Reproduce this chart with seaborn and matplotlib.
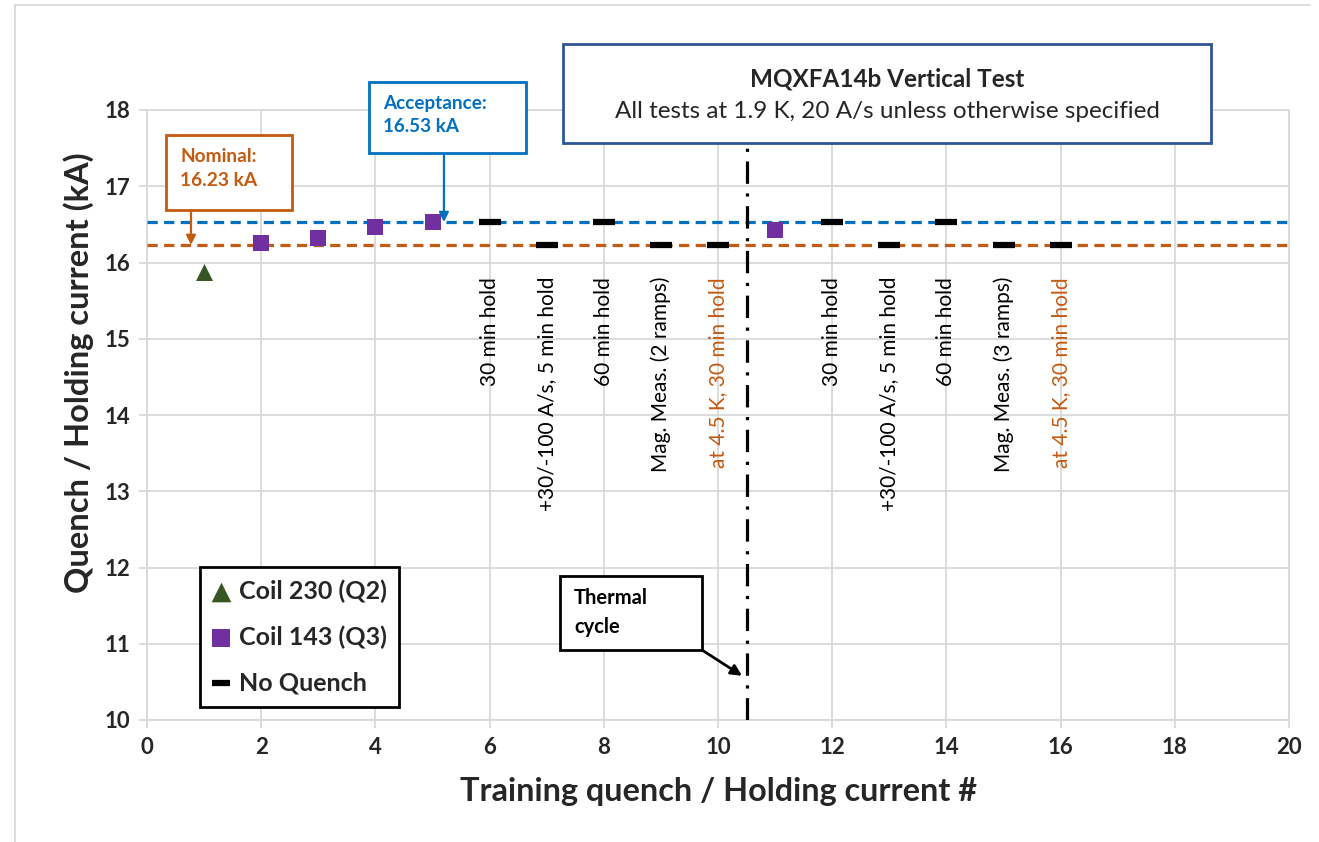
import matplotlib
matplotlib.use("Agg")
import matplotlib.pyplot as plt
from matplotlib.patches import Rectangle
from matplotlib.lines import Line2D
import seaborn as sns
import pandas as pd

# ---- data ----
coil230_x = [1]
coil230_y = [15.87]
coil143_x = [2, 3, 4, 5, 11]
coil143_y = [16.25, 16.32, 16.47, 16.53, 16.42]
noq_x = [6, 7, 8, 9, 10, 12, 13, 14, 15, 16]
noq_y = [16.53, 16.23, 16.53, 16.23, 16.23, 16.53, 16.23, 16.53, 16.23, 16.23]
noq_labels = ["30 min hold", "+30/-100 A/s, 5 min hold", "60 min hold",
              "Mag. Meas. (2 ramps)", "at 4.5 K, 30 min hold",
              "30 min hold", "+30/-100 A/s, 5 min hold", "60 min hold",
              "Mag. Meas. (3 ramps)", "at 4.5 K, 30 min hold"]
noq_label_orange = [False, False, False, False, True, False, False, False, False, True]
acceptance = 16.53
nominal = 16.23
thermal_cycle_x = 10.5
x_ticks = [0, 2, 4, 6, 8, 10, 12, 14, 16, 18, 20]
y_ticks = [10, 11, 12, 13, 14, 15, 16, 17, 18]

BLUE = "#0070C0"
ORANGE = "#C55A11"
GREEN = "#375623"
PURPLE = "#7030A0"
GRID = "#D9D9D9"

sns.set_theme(style="white")
plt.rcParams["font.family"] = ["Lato", "DejaVu Sans"]

W, H = 1319, 842
fig = plt.figure(figsize=(W / 100, H / 100), dpi=100)
ax = fig.add_axes([147 / W, 122 / H, 1142 / W, 610 / H])

def fx(px):
    return px / W

def fy(py):
    return 1 - py / H

df230 = pd.DataFrame({"x": coil230_x, "y": coil230_y})
df143 = pd.DataFrame({"x": coil143_x, "y": coil143_y})
dfnq = pd.DataFrame({"x": noq_x, "y": noq_y})

ax.axhline(acceptance, color=BLUE, lw=2.3, dashes=(3.2, 2.0), zorder=3)
ax.axhline(nominal, color=ORANGE, lw=2.3, dashes=(3.2, 2.0), zorder=3)
ax.axvline(thermal_cycle_x, color="black", lw=2.3, dashes=(7, 3, 1, 3), zorder=3)

sns.scatterplot(data=df230, x="x", y="y", marker="^", s=150, color=GREEN,
                edgecolor=GREEN, linewidth=0, ax=ax, zorder=5, label="Coil 230 (Q2)")
sns.scatterplot(data=df143, x="x", y="y", marker="s", s=120, color=PURPLE,
                edgecolor=PURPLE, linewidth=0, ax=ax, zorder=5, label="Coil 143 (Q3)")
sns.scatterplot(data=dfnq, x="x", y="y", marker="_", s=260, color="black",
                linewidth=4.5, ax=ax, zorder=5, label="No Quench")

for x, lab, orange in zip(noq_x, noq_labels, noq_label_orange):
    ax.text(x, 15.81, lab, rotation=90, ha="center", va="top", fontsize=15,
            color=ORANGE if orange else "black", zorder=6)

ax.set_xlim(0, 20)
ax.set_ylim(10, 18)
ax.set_xticks(x_ticks)
ax.set_yticks(y_ticks)
ax.grid(True, color=GRID, lw=1.3)
for s in ax.spines.values():
    s.set_color(GRID)
    s.set_linewidth(1.3)
ax.tick_params(axis="both", which="both", length=6, width=1.3, color=GRID,
               labelsize=16, pad=6, bottom=True, left=True)
for lab in ax.get_xticklabels() + ax.get_yticklabels():
    lab.set_fontweight("bold")
ax.set_xlabel("Training quench / Holding current #", fontsize=23.3, fontweight="bold", labelpad=14)
ax.set_ylabel("Quench / Holding current (kA)", fontsize=23.5, fontweight="bold")
ax.yaxis.set_label_coords(-0.046, 0.569)

# legend
leg = ax.legend(loc="upper left", bbox_to_anchor=(fx(200), fy(567)), bbox_transform=fig.transFigure,
                frameon=True, fancybox=False, edgecolor="black", framealpha=1,
                prop={"weight": "bold", "size": 18}, labelspacing=0.89, handlelength=0.7,
                handletextpad=0.35, borderpad=0.5, borderaxespad=0)
leg.get_frame().set_linewidth(2)
leg.set_zorder(20)
hs = leg.legend_handles
hs[0].set_sizes([200])
hs[1].set_sizes([160])
hs[2].set_sizes([150])
hs[2].set_linewidth(4.5)

def box(x0, y0, x1, y1, ec, lw=2):
    r = Rectangle((fx(x0), fy(y1)), fx(x1) - fx(x0), fy(y0) - fy(y1), transform=fig.transFigure,
                  facecolor="white", edgecolor=ec, lw=lw, zorder=15, clip_on=False)
    ax.add_patch(r)

# title box
box(563, 44, 1211, 143, "#2F5597", 2)
ax.text(fx(887), fy(79), "MQXFA14b Vertical Test", transform=fig.transFigure, ha="center", va="center",
        fontsize=17.5, fontweight="bold", zorder=16)
ax.text(fx(887), fy(112), "All tests at 1.9 K, 20 A/s unless otherwise specified",
        transform=fig.transFigure, ha="center", va="center", fontsize=17.5, zorder=16)

# acceptance box
box(369, 82, 526, 153, BLUE, 2)
ax.text(fx(383), fy(103), "Acceptance:", transform=fig.transFigure, ha="left", va="center",
        fontsize=13.6, fontweight="bold", color=BLUE, zorder=16)
ax.text(fx(383), fy(127), "16.53 kA", transform=fig.transFigure, ha="left", va="center",
        fontsize=13.6, fontweight="bold", color=BLUE, zorder=16)
ax.annotate("", xy=(5.2, acceptance), xytext=(444, H - 153), textcoords="figure pixels",
            arrowprops=dict(arrowstyle="-|>", color=BLUE, lw=1.6, shrinkA=0, shrinkB=0,
                            mutation_scale=14), zorder=14)

# nominal box
box(166, 135, 292, 210, ORANGE, 2)
ax.text(fx(180), fy(156), "Nominal:", transform=fig.transFigure, ha="left", va="center",
        fontsize=13.8, fontweight="bold", color=ORANGE, zorder=16)
ax.text(fx(180), fy(180), "16.23 kA", transform=fig.transFigure, ha="left", va="center",
        fontsize=13.8, fontweight="bold", color=ORANGE, zorder=16)
ax.annotate("", xy=(0.77, nominal), xytext=(191, H - 210), textcoords="figure pixels",
            arrowprops=dict(arrowstyle="-|>", color=ORANGE, lw=1.6, shrinkA=0, shrinkB=0,
                            mutation_scale=14), zorder=14)

# thermal cycle box
box(560, 576, 702, 650, "black", 2)
ax.text(fx(574), fy(598), "Thermal", transform=fig.transFigure, ha="left", va="center",
        fontsize=14.5, fontweight="bold", color="black", zorder=16)
ax.text(fx(574), fy(627), "cycle", transform=fig.transFigure, ha="left", va="center",
        fontsize=14.5, fontweight="bold", color="black", zorder=16)
ax.annotate("", xy=(10.42, 10.58), xytext=(702, H - 650), textcoords="figure pixels",
            arrowprops=dict(arrowstyle="-|>", color="black", lw=2, shrinkA=0, shrinkB=0,
                            mutation_scale=16), zorder=14)

# outer chart border (left and top)
fig.add_artist(Line2D([fx(15), fx(15)], [0, fy(5)], transform=fig.transFigure, color=GRID, lw=1.3))
fig.add_artist(Line2D([fx(15), fx(1310)], [fy(5), fy(5)], transform=fig.transFigure, color=GRID, lw=1.3))

fig.savefig("out.png", dpi=100)
